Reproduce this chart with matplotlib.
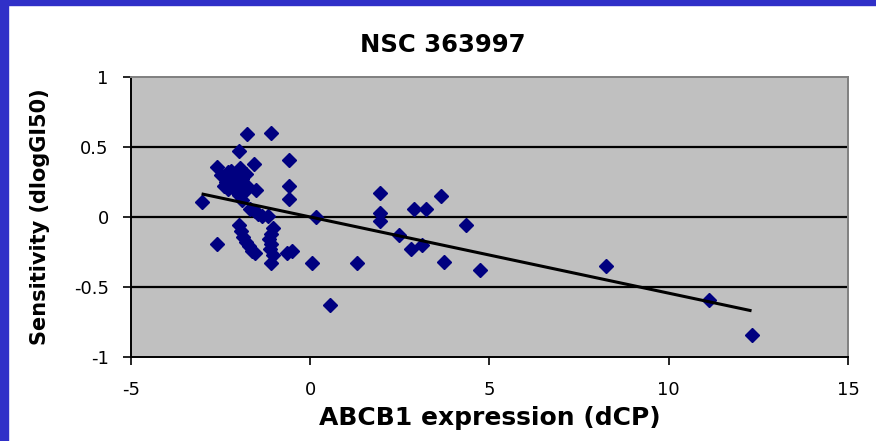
import numpy as np
import matplotlib.pyplot as plt
from matplotlib.patches import Rectangle

plt.rcParams['font.family'] = ['DejaVu Sans']
plt.rcParams['axes.unicode_minus'] = False

# ABCB1 expression (dCP) vs sensitivity (dlogGI50)
expr = [-1.77, -1.09, -1.99, -2.61, -1.56, -0.58, -0.58, -0.58, -1.50, -3.03,
        -2.50, -2.40, -2.35, -2.30, -2.25, -2.20, -2.15, -2.10, -2.05, -2.00,
        -1.95, -1.90, -1.85, -1.80, -2.00, -2.30, -1.90, -1.75,
        -1.68, -1.55, -1.45, -1.35, -1.17, 0.16,
        -1.98, -1.93, -1.88, -1.80, -1.72, -1.62, -1.55,
        -1.05, -1.10, -1.15, -1.08, -1.12, -1.05, -1.10,
        -2.61, -0.66, -0.52, 0.04, 1.30, 0.55,
        1.95, 1.95, 1.95, 2.90, 3.23, 3.64, 4.34, 2.48, 2.80, 3.12,
        3.74, 4.74, 8.25, 11.13, 12.31]
sens = [0.59, 0.60, 0.47, 0.36, 0.38, 0.41, 0.22, 0.13, 0.19, 0.11,
        0.30, 0.22, 0.25, 0.20, 0.28, 0.33, 0.24, 0.19, 0.30, 0.22,
        0.35, 0.27, 0.18, 0.31, 0.16, 0.32, 0.12, 0.22,
        0.06, 0.04, 0.02, 0.01, 0.01, 0.00,
        -0.06, -0.10, -0.14, -0.18, -0.21, -0.24, -0.26,
        -0.08, -0.12, -0.16, -0.19, -0.23, -0.27, -0.33,
        -0.19, -0.26, -0.24, -0.33, -0.33, -0.63,
        0.17, 0.03, -0.03, 0.06, 0.06, 0.15, -0.06, -0.13, -0.23, -0.20,
        -0.32, -0.38, -0.35, -0.59, -0.84]

# trend line end points
trend_x = [-3.03, 12.31]
trend_y = [0.165, -0.67]

fig = plt.figure(figsize=(8.76, 4.41), dpi=100)
ax = fig.add_axes([0.1495, 0.1905, 0.8185, 0.635])
ax.set_facecolor('#c0c0c0')

for yv in [0.5, 0, -0.5]:
    ax.axhline(yv, color='black', lw=1.6, zorder=1)

ax.plot(expr, sens, 'D', color='#000080', ms=7, mec='#000080', zorder=3)
ax.plot(trend_x, trend_y, color='black', lw=2.2, solid_capstyle='butt', zorder=4)

ax.set_xlim(-5, 15)
ax.set_ylim(-1, 1)
ax.set_xticks([-5, 0, 5, 10, 15])
ax.set_yticks([-1, -0.5, 0, 0.5, 1])
ax.set_yticklabels(['-1', '-0.5', '0', '0.5', '1'])
ax.tick_params(direction='out', length=6, width=1.2, labelsize=13, color='black')
ax.tick_params(axis='x', pad=11)
ax.tick_params(axis='y', pad=10)
for s in ['left', 'bottom']:
    ax.spines[s].set_color('black')
    ax.spines[s].set_linewidth(1.4)
for s in ['top', 'right']:
    ax.spines[s].set_color('#808080')
    ax.spines[s].set_linewidth(1.4)

fig.text(0.505, 0.898, 'NSC 363997', fontsize=17.5, fontweight='bold',
         ha='center', va='center')
ax.set_xlabel('ABCB1 expression (dCP)', fontsize=18, fontweight='bold', labelpad=5)
ax.set_ylabel('Sensitivity (dlogGI50)', fontsize=15, fontweight='bold', labelpad=17)

# blue frame at top and left edges
fig.patches.append(Rectangle((0, 1 - 5 / 441), 1, 5 / 441, transform=fig.transFigure,
                             color='#3030c8', zorder=10))
fig.patches.append(Rectangle((0, 0), 8 / 876, 1, transform=fig.transFigure,
                             color='#3030c8', zorder=10))

fig.savefig('out.png', dpi=100)
